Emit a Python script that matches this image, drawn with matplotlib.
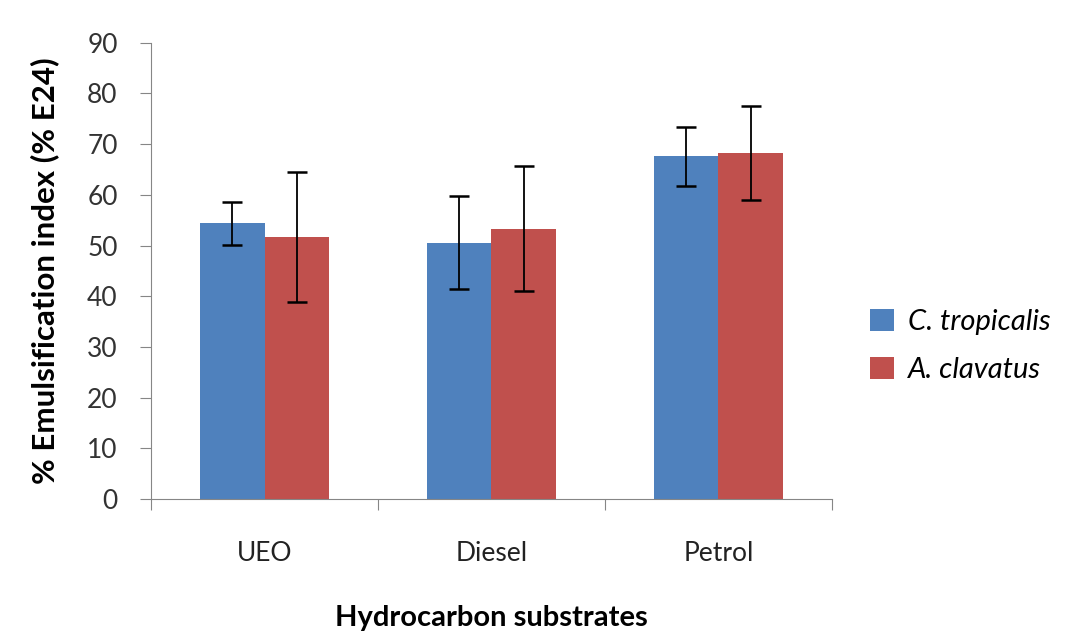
import numpy as np
import matplotlib
matplotlib.use('Agg')
import matplotlib.pyplot as plt

substrates = ['UEO', 'Diesel', 'Petrol']
tropicalis = [54.4, 50.6, 67.6]
tropicalis_err = [4.2, 9.1, 5.8]
clavatus = [51.7, 53.3, 68.2]
clavatus_err = [12.9, 12.3, 9.3]

plt.rcParams['font.family'] = ['Lato', 'DejaVu Sans']

fig = plt.figure(figsize=(10.68, 6.44), dpi=100)
ax = fig.add_axes([0.1414, 0.225, 0.6376, 0.7087])

x = np.arange(len(substrates)) + 0.5
w = 0.286
err_style = dict(ecolor='black', elinewidth=1.3, capsize=7, capthick=1.8)
ax.bar(x - w / 2, tropicalis, w, color='#4F81BD', label='C. tropicalis',
       yerr=tropicalis_err, error_kw=err_style)
ax.bar(x + w / 2, clavatus, w, color='#C0504D', label='A. clavatus',
       yerr=clavatus_err, error_kw=err_style)

ax.set_xlim(0, 3)
ax.set_ylim(0, 90)
ax.set_yticks(range(0, 91, 10))
ax.set_xticks([0, 1, 2, 3])
ax.set_xticklabels([])
ax.set_xticks(x, minor=True)
ax.set_xticklabels(substrates, minor=True)
ax.tick_params(axis='x', which='minor', length=0, pad=30, labelsize=19,
               labelcolor='#222222')
ax.tick_params(axis='x', which='major', length=8, color='#868686', direction='out')
ax.tick_params(axis='y', length=8, color='#868686', labelsize=19, pad=16,
               labelcolor='#333333')

for s in ['top', 'right']:
    ax.spines[s].set_visible(False)
for s in ['left', 'bottom']:
    ax.spines[s].set_color('#868686')

ax.set_ylabel('% Emulsification index (% E24)', fontsize=22.5, fontweight='bold',
              labelpad=20)
ax.set_xlabel('Hydrocarbon substrates', fontsize=21, fontweight='bold', labelpad=28)

leg = ax.legend(loc='center left', bbox_to_anchor=(1.039, 0.335), frameon=False,
                handlelength=0.8, handleheight=0.8, handletextpad=0.5,
                labelspacing=0.75, borderaxespad=0,
                prop={'style': 'italic', 'size': 21})

fig.savefig('out.png', dpi=100)
